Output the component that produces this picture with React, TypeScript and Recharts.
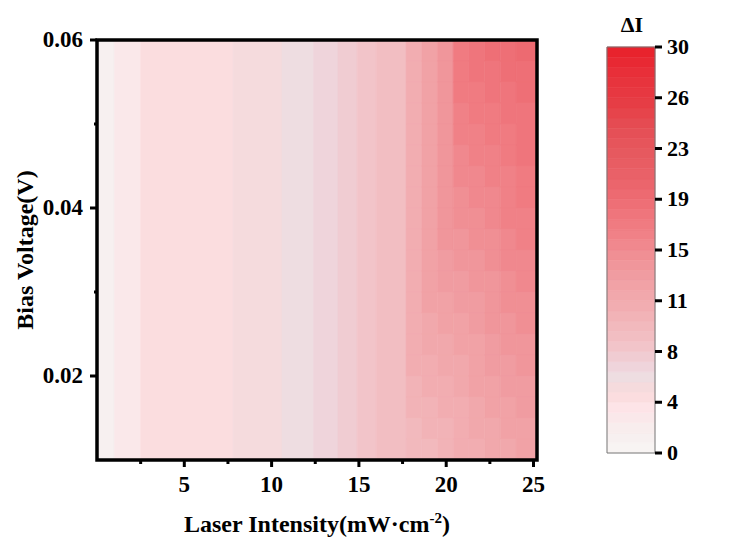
import React from "react";
import { ComposedChart, XAxis, YAxis, ReferenceArea, Label } from "recharts";

// axis ticks
const intensityTicks = [2.5, 5, 7.5, 10, 12.5, 15, 17.5, 20, 22.5, 25];
const intensityLabels = ["", "5", "", "10", "", "15", "", "20", "", "25"];
const voltageTicks = [0.02, 0.03, 0.04, 0.05, 0.06];
const voltageLabels = ["0.02", "", "0.04", "", "0.06"];
const intensityRange = [0, 25.2];
const voltageRange = [0.01, 0.06];

// low intensity: ΔI only changes with intensity, bands run straight up
const stripeEdges = [0, 1.0, 2.5, 7.8, 10.6, 12.4, 13.8, 14.9, 16.0, 17.7];
const stripeValues = [1.0, 2.4, 3.9, 4.6, 5.6, 6.4, 7.2, 7.9, 8.6];

// high intensity: bands bend with voltage (rows from 0.06 V down to 0.01 V)
const gridXEdges = [17.7, 18.6, 19.5, 20.4, 21.3, 22.2, 23.1, 24.0, 25.2];
const gridYEdges = [
  0.06, 0.0575, 0.055, 0.0525, 0.05, 0.0475, 0.045, 0.0425, 0.04, 0.0375, 0.035,
  0.0325, 0.03, 0.0275, 0.025, 0.0225, 0.02, 0.0175, 0.015, 0.0125, 0.01,
];
const gridValues = [
  [11, 12.5, 14, 17.2, 17.65, 18.1, 18.55, 19.0],
  [11, 12.5, 14, 16.85, 17.3, 17.75, 18.2, 18.65],
  [11, 12.5, 14, 16.5, 16.95, 17.4, 17.85, 18.3],
  [11, 12.5, 14, 16.15, 16.6, 17.05, 17.5, 17.95],
  [11, 12.5, 14, 15.8, 16.25, 16.7, 17.15, 17.6],
  [11, 12.5, 14, 15.45, 15.9, 16.35, 16.8, 17.25],
  [11, 12.5, 14, 15.1, 15.55, 16.0, 16.45, 16.9],
  [11, 12.5, 14, 14.75, 15.2, 15.65, 16.1, 16.55],
  [11, 12.5, 13.95, 14.4, 14.85, 15.3, 15.75, 16.2],
  [11, 12.5, 13.55, 14.0, 14.45, 14.9, 15.35, 15.8],
  [11, 12.5, 13.2, 13.65, 14.1, 14.55, 15.0, 15.45],
  [11, 12.4, 12.85, 13.3, 13.75, 14.2, 14.65, 15.1],
  [11, 12.05, 12.5, 12.95, 13.4, 13.85, 14.3, 14.75],
  [11, 11.7, 12.15, 12.6, 13.05, 13.5, 13.95, 14.4],
  [10.9, 11.35, 11.8, 12.25, 12.7, 13.15, 13.6, 14.05],
  [10.55, 11.0, 11.45, 11.9, 12.35, 12.8, 13.25, 13.7],
  [10.2, 10.65, 11.1, 11.55, 12.0, 12.45, 12.9, 13.35],
  [9.85, 10.3, 10.75, 11.2, 11.65, 12.1, 12.55, 13.0],
  [9.5, 9.95, 10.4, 10.85, 11.3, 11.75, 12.2, 12.65],
  [9.15, 9.6, 10.05, 10.5, 10.95, 11.4, 11.85, 12.3],
];

// colour bar
const barTicks = [0, 3.75, 7.5, 11.25, 15, 18.75, 22.5, 26.25, 30];
const barRange = [0, 30];
const levelStep = 0.75;

const colorStops: [number, string][] = [
  [0, "#f9f5f4"],
  [1, "#f7f1f1"],
  [2.2, "#f9ebec"],
  [3.5, "#fde3e6"],
  [4.6, "#f9d9da"],
  [5.4, "#eedfe3"],
  [6.4, "#efd4db"],
  [8, "#f2c3c7"],
  [10, "#f2b4b8"],
  [12, "#f1a5a9"],
  [14, "#f0959a"],
  [16, "#f08288"],
  [18, "#ef7279"],
  [20, "#eb646b"],
  [22, "#e65a60"],
  [24, "#e54e55"],
  [26, "#e63c44"],
  [28, "#e8303a"],
  [30, "#e8202a"],
];

const hex = (c: string) => [1, 3, 5].map((i) => parseInt(c.slice(i, i + 2), 16));

function rampColor(v: number) {
  for (let i = 1; i < colorStops.length; i++) {
    const [v1, c1] = colorStops[i];
    const [v0, c0] = colorStops[i - 1];
    if (v <= v1) {
      const t = Math.max(0, (v - v0) / (v1 - v0));
      const a = hex(c0);
      const b = hex(c1);
      return `rgb(${a.map((x, k) => Math.round(x + (b[k] - x) * t)).join(",")})`;
    }
  }
  return colorStops[colorStops.length - 1][1];
}

// contour fill: one flat colour per level
const levelColor = (v: number) => rampColor((Math.floor(v / levelStep) + 0.5) * levelStep);

const cells = [
  ...stripeValues.map((v, i) => ({
    x1: stripeEdges[i],
    x2: stripeEdges[i + 1],
    y1: voltageRange[0],
    y2: voltageRange[1],
    v,
  })),
  ...gridValues.flatMap((row, r) =>
    row.map((v, c) => ({
      x1: gridXEdges[c],
      x2: gridXEdges[c + 1],
      y1: gridYEdges[r + 1],
      y2: gridYEdges[r],
      v,
    }))
  ),
];

const barLevels = Array.from({ length: barRange[1] / levelStep }, (_, k) => ({ x: 0, lo: k * levelStep }));

const font = "'Liberation Serif', 'Times New Roman', serif";

const XTick = (props: any) => {
  const { x, y, payload } = props;
  const label = intensityLabels[intensityTicks.indexOf(payload.value)];
  return (
    <g>
      <line x1={x} x2={x} y1={y} y2={y + (label ? 7 : 4)} stroke="#000" strokeWidth={3} />
      {label && (
        <text x={x} y={y + 32} textAnchor="middle" fontFamily={font} fontWeight="bold" fontSize={23} fill="#000">
          {label}
        </text>
      )}
    </g>
  );
};

const YTick = (props: any) => {
  const { x, y, payload } = props;
  const label = voltageLabels[voltageTicks.indexOf(payload.value)];
  return (
    <g>
      <line x1={x - (label ? 7 : 3)} x2={x} y1={y} y2={y} stroke="#000" strokeWidth={3} />
      {label && (
        <text x={x - 14} y={y + 7} textAnchor="end" fontFamily={font} fontWeight="bold" fontSize={23} fill="#000">
          {label}
        </text>
      )}
    </g>
  );
};

const BarTick = (props: any) => {
  const { x, y, payload } = props;
  return (
    <g>
      <line x1={x} x2={x + 7} y1={y} y2={y} stroke="#000" strokeWidth={3} />
      <text x={x + 12} y={y + 7} textAnchor="start" fontFamily={font} fontWeight="bold" fontSize={22} fill="#000">
        {Math.round(payload.value)}
      </text>
    </g>
  );
};

export default function App() {
  return (
    <div style={{ position: "relative", width: 732, height: 537, background: "#fff", overflow: "hidden" }}>
      <style>{"body{margin:0}"}</style>
      <div style={{ position: "absolute", left: 0, top: 0 }}>
        <ComposedChart width={560} height={537} data={cells} margin={{ top: 40, right: 23, left: 0, bottom: 0 }}>
          <XAxis
            dataKey="x1"
            type="number"
            domain={intensityRange}
            allowDataOverflow
            ticks={intensityTicks}
            interval={0}
            height={77}
            tickSize={0}
            tickMargin={0}
            axisLine={false}
            tickLine={false}
            tick={XTick}
          >
            <Label
              content={(p: any) => {
                const vb = p.viewBox;
                return (
                  <text x={vb.x + vb.width / 2} y={vb.y + 72} textAnchor="middle" fontFamily={font} fontWeight="bold" fontSize={24} fill="#000">
                    Laser Intensity(mW·cm
                    <tspan dy={-9} fontSize={15}>-2</tspan>
                    <tspan dy={9}>)</tspan>
                  </text>
                );
              }}
            />
          </XAxis>
          <YAxis
            dataKey="y1"
            type="number"
            domain={voltageRange}
            allowDataOverflow
            ticks={voltageTicks}
            interval={0}
            width={97}
            tickSize={0}
            tickMargin={0}
            axisLine={false}
            tickLine={false}
            tick={YTick}
          >
            <Label
              content={(p: any) => {
                const vb = p.viewBox;
                const cy = vb.y + vb.height / 2;
                return (
                  <text x={33} y={cy} transform={`rotate(-90, 33, ${cy})`} textAnchor="middle" fontFamily={font} fontWeight="bold" fontSize={24} fill="#000">
                    Bias Voltage(V)
                  </text>
                );
              }}
            />
          </YAxis>
          {cells.map((c, i) => (
            <ReferenceArea
              key={i}
              x1={c.x1}
              x2={c.x2}
              y1={c.y1}
              y2={c.y2}
              fill={levelColor(c.v)}
              fillOpacity={1}
              stroke={levelColor(c.v)}
              strokeWidth={0.6}
            />
          ))}
          <ReferenceArea
            x1={intensityRange[0]}
            x2={intensityRange[1]}
            y1={voltageRange[0]}
            y2={voltageRange[1]}
            fill="none"
            fillOpacity={0}
            stroke="#000"
            strokeWidth={3.5}
          />
        </ComposedChart>
      </div>
      <div style={{ position: "absolute", left: 590, top: 0 }}>
        <ComposedChart width={120} height={537} data={barLevels} margin={{ top: 47, right: 0, left: 17, bottom: 84 }}>
          <XAxis dataKey="x" type="number" domain={[0, 1]} allowDataOverflow hide />
          <YAxis
            dataKey="lo"
            orientation="right"
            type="number"
            domain={barRange}
            allowDataOverflow
            ticks={barTicks}
            interval={0}
            width={55}
            tickSize={0}
            tickMargin={0}
            axisLine={false}
            tickLine={false}
            tick={BarTick}
          />
          {barLevels.map((b, i) => (
            <ReferenceArea
              key={i}
              x1={0}
              x2={1}
              y1={b.lo}
              y2={b.lo + levelStep}
              fill={levelColor(b.lo + levelStep / 2)}
              fillOpacity={1}
              stroke={levelColor(b.lo + levelStep / 2)}
              strokeWidth={0.6}
            />
          ))}
          <ReferenceArea x1={0} x2={1} y1={barRange[0]} y2={barRange[1]} fill="none" fillOpacity={0} stroke="#777" strokeWidth={1} />
          <ReferenceArea x1={1} x2={1} y1={barRange[0]} y2={barRange[1]} fill="none" fillOpacity={0} stroke="#000" strokeWidth={2.5} />
        </ComposedChart>
        <div
          style={{
            position: "absolute",
            left: 24,
            top: 12,
            width: 36,
            textAlign: "center",
            fontFamily: font,
            fontWeight: "bold",
            fontSize: 22,
            color: "#000",
          }}
        >
          ΔI
        </div>
      </div>
    </div>
  );
}
